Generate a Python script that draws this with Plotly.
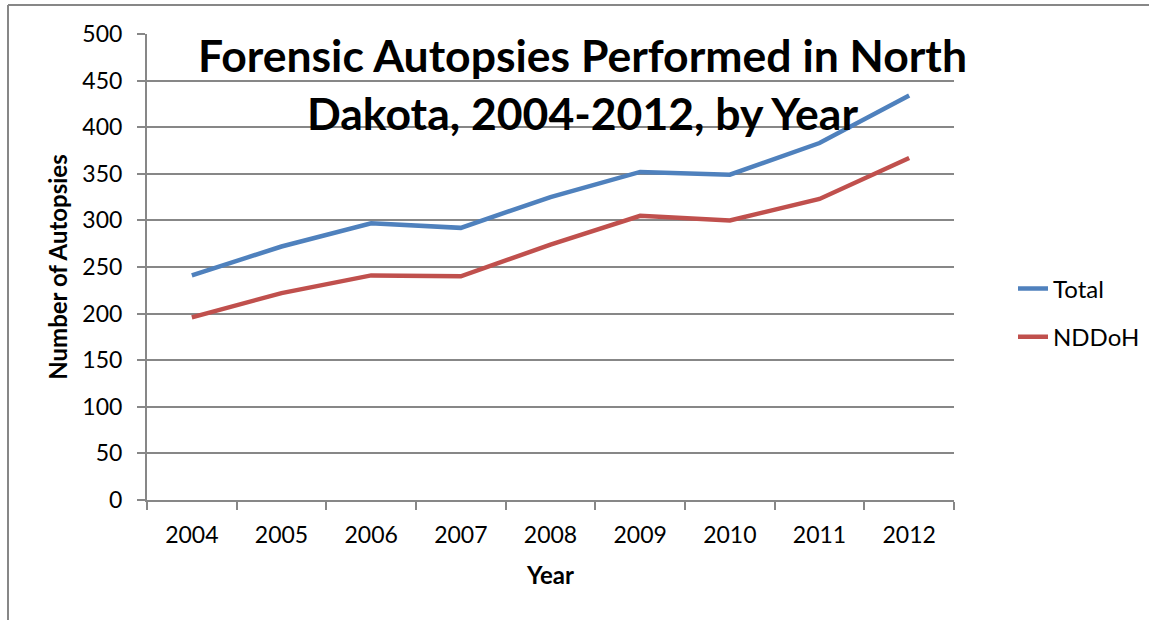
import plotly.graph_objects as go

years = ["2004", "2005", "2006", "2007", "2008", "2009", "2010", "2011", "2012"]
total = [241, 272, 297, 292, 325, 352, 349, 383, 434]
nddoh = [196, 222, 241, 240, 274, 305, 300, 323, 367]
y_ticks = [0, 50, 100, 150, 200, 250, 300, 350, 400, 450, 500]

FONT = "Lato, 'Open Sans', 'DejaVu Sans', sans-serif"
GRID = "#878787"

fig = go.Figure()
fig.add_trace(go.Scatter(x=years, y=total, name="Total", mode="lines", legendgroup="a",
                         line=dict(color="#4F81BD", width=4.5)))
fig.add_trace(go.Scatter(x=years, y=nddoh, name="NDDoH", mode="lines", legendgroup="b",
                         line=dict(color="#C0504D", width=4.5)))

L, R, T, B = 147, 195, 34, 120
W, H = 1149, 620
pw, ph = W - L - R, H - T - B

def px(x):
    return (x - L) / pw

def py(y):
    return (H - B - y) / ph

fig.update_layout(
    width=W, height=H,
    margin=dict(l=L, r=R, t=T, b=B, pad=0, autoexpand=False),
    paper_bgcolor="white", plot_bgcolor="white",
    font=dict(family=FONT, size=23, color="black"),
    showlegend=True,
    legend=dict(x=px(1013), y=py(313), xanchor="left", yanchor="middle",
                font=dict(size=24), tracegroupgap=14, itemwidth=30,
                bgcolor="rgba(0,0,0,0)"),
    xaxis=dict(type="category", range=[-0.5, 8.5], showgrid=False,
               showline=True, linecolor=GRID, linewidth=2,
               ticks="outside", tickson="boundaries", ticklen=8, tickcolor=GRID,
               tickwidth=2, ticklabelstandoff=13,
               title=dict(text="<b>Year</b>", font=dict(size=24), standoff=21),
               fixedrange=True),
    yaxis=dict(range=[0, 500], tickvals=y_ticks, showgrid=True, gridcolor=GRID,
               gridwidth=2, showline=True, linecolor=GRID, linewidth=2,
               ticks="outside", ticklen=8, tickcolor=GRID, tickwidth=2,
               ticklabelstandoff=10, zeroline=False,
               title=dict(text="<b>Number of Autopsies</b>", font=dict(size=24),
                          standoff=8),
               fixedrange=True),
)

fig.add_annotation(
    text="<b>Forensic Autopsies Performed in North<br>Dakota, 2004-2012, by Year</b>",
    xref="paper", yref="paper", x=px(582), y=py(84), xanchor="center",
    yanchor="middle", showarrow=False, font=dict(size=44.5, family=FONT, color="black"),
    align="center",
)

# Outer chart frame (top and left edges visible)
fig.add_shape(type="line", xref="paper", yref="paper", x0=px(8), x1=px(W + 5),
              y0=py(5), y1=py(5), line=dict(color=GRID, width=2))
fig.add_shape(type="line", xref="paper", yref="paper", x0=px(8), x1=px(8),
              y0=py(5), y1=py(H + 5), line=dict(color=GRID, width=2))

fig.write_html("out.html", config={"displayModeBar": False},
               post_script="document.body.style.margin='0';")
